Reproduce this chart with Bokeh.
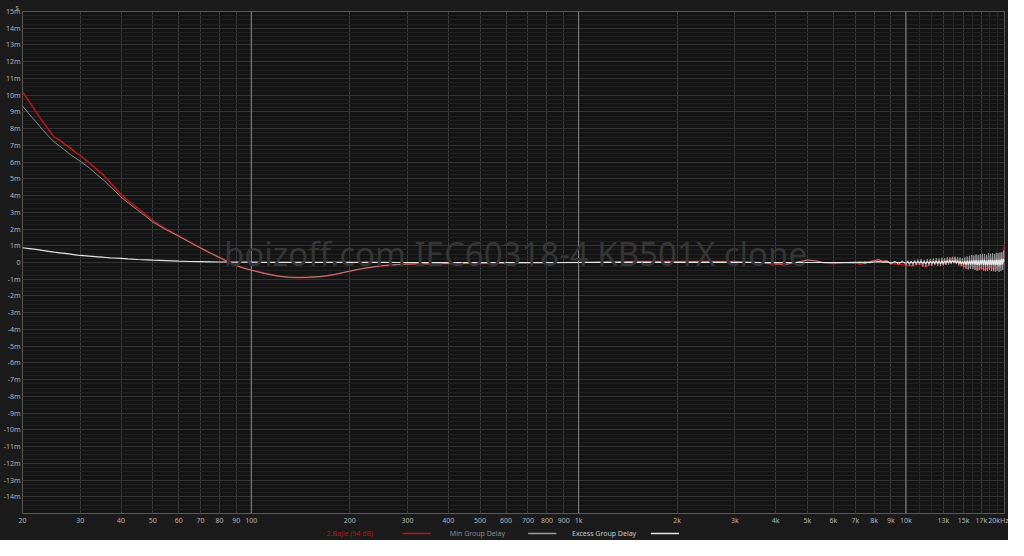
from bokeh.plotting import figure
from bokeh.models import FixedTicker, Span, Label
from bokeh.layouts import column
from bokeh.core.properties import value
from bokeh.embed import file_html
from bokeh.resources import INLINE

# ---------------- data (ms) ----------------
freq_lo = [20, 21, 22, 23, 24, 25, 26, 27, 28, 29, 30,
           32, 34, 35, 36, 37, 38, 40, 42, 45, 48, 50,
           55, 60, 65, 70, 75, 80, 85, 90, 95, 100,
           110, 120, 130, 140, 150, 160, 170, 180, 200, 220, 250, 280, 300, 350, 400,
           500, 600, 700, 800, 1000, 1200, 1500, 2000, 2500, 3000, 3500, 4000, 4300, 4600,
           5000, 5300, 5600, 6000, 6500]

gd_lo = [10.2, 9.6, 9.0, 8.45, 7.95, 7.5, 7.3, 7.05, 6.85, 6.6, 6.4,
         5.95, 5.5, 5.3, 5.05, 4.8, 4.55, 4.05, 3.7, 3.25, 2.8, 2.5,
         2.0, 1.6, 1.22, 0.88, 0.57, 0.3, 0.05, -0.18, -0.33, -0.45,
         -0.65, -0.8, -0.88, -0.9, -0.89, -0.86, -0.8, -0.72, -0.52, -0.36, -0.2, -0.13, -0.1, -0.08, -0.06,
         -0.05, -0.04, -0.03, -0.02, 0.0, 0.03, 0.05, 0.05, 0.06, 0.05, 0.0, -0.1, -0.12, 0.0,
         0.15, 0.1, -0.02, -0.05, -0.02]

min_lo = [9.35, 8.85, 8.4, 7.95, 7.55, 7.2, 6.95, 6.7, 6.45, 6.25, 6.05,
          5.65, 5.2, 5.0, 4.8, 4.55, 4.35, 3.9, 3.58, 3.12, 2.7, 2.42,
          1.95, 1.57, 1.2, 0.86, 0.56, 0.29, 0.04, -0.19, -0.34, -0.46,
          -0.66, -0.81, -0.88, -0.9, -0.88, -0.85, -0.79, -0.71, -0.51, -0.35, -0.19, -0.12, -0.09, -0.07, -0.05,
          -0.04, -0.03, -0.02, -0.01, 0.01, 0.04, 0.06, 0.06, 0.06, 0.05, 0.01, -0.08, -0.1, 0.01,
          0.14, 0.1, -0.01, -0.04, -0.01]

exc_lo = [0.88, 0.83, 0.78, 0.72, 0.67, 0.62, 0.58, 0.54, 0.5, 0.46, 0.42,
          0.38, 0.34, 0.32, 0.3, 0.28, 0.27, 0.25, 0.22, 0.18, 0.16, 0.14,
          0.11, 0.08, 0.06, 0.05, 0.04, 0.03, 0.03, 0.02, 0.02, 0.02,
          0.01, 0.01, 0.01, 0.01, 0.01, 0.01, 0.01, 0.01, 0.01, 0.01, 0.01, 0.0, 0.0, 0.0, 0.0,
          0.0, 0.0, 0.0, 0.0, 0.0, 0.0, 0.0, 0.0, 0.0, 0.0, 0.0, 0.0, 0.0, 0.0,
          0.0, 0.0, 0.0, 0.0, 0.0]

# high-frequency sampling positions (Hz)
freq_hi = list(range(7000, 10000, 250)) + list(range(10000, 20001, 125))

gd_hi = [-0.02, -0.1, -0.02, 0.05, 0.12, 0.15, 0.1, 0.04, -0.04, -0.08, -0.1, -0.12,
         -0.15, -0.16, -0.18, -0.2, -0.19, -0.15, -0.12, -0.1, -0.08, -0.12,
         -0.2, -0.24, -0.25, -0.2, -0.15, -0.12, -0.08, -0.02, 0.0, 0.04,
         0.05, 0.0, -0.05, -0.08, -0.1, -0.05, 0.05, 0.12, 0.15, 0.18,
         0.22, 0.25, 0.25, 0.2, 0.15, 0.05, 0.0, -0.05, -0.1, -0.15,
         -0.2, -0.25, -0.3, -0.35, -0.35, -0.3, -0.2, -0.15, -0.2, -0.25,
         -0.3, -0.35, -0.4, -0.38, -0.35, -0.3, -0.3, -0.35, -0.4, -0.42,
         -0.45, -0.4, -0.35, -0.3, -0.25, -0.2, -0.3, -0.35, -0.4, -0.38,
         -0.35, -0.3, -0.3, -0.28, -0.25, -0.2, -0.1, 0.05, 0.3, 0.6, 1.1]

min_hi = [-0.02, 0.05, -0.08, 0.06, 0.1, 0.18, 0.05, 0.12, -0.1, 0.08, -0.12, 0.1,
          -0.15, 0.12, -0.18, 0.1, -0.2, 0.15, -0.16, 0.18, -0.14, 0.2,
          -0.24, 0.16, -0.25, 0.2, -0.18, 0.22, -0.2, 0.24, -0.16, 0.26,
          -0.2, 0.24, -0.22, 0.28, -0.18, 0.25, -0.15, 0.3, -0.12, 0.3,
          -0.1, 0.34, -0.05, 0.35, -0.1, 0.32, -0.18, 0.3, -0.22, 0.26,
          -0.3, 0.3, -0.36, 0.35, -0.42, 0.4, -0.38, 0.45, -0.4, 0.42,
          -0.45, 0.48, -0.5, 0.44, -0.46, 0.5, -0.42, 0.52, -0.48, 0.5,
          -0.52, 0.46, -0.5, 0.55, -0.45, 0.52, -0.5, 0.56, -0.52, 0.5,
          -0.55, 0.58, -0.5, 0.55, -0.56, 0.6, -0.5, 0.62, -0.45, 0.7, 0.3]

exc_hi = [0.01, -0.01, 0.02, -0.01, 0.03, 0.05, 0.02, 0.04, -0.02, 0.03, -0.02, 0.03,
          -0.03, 0.03, -0.04, 0.04, -0.04, 0.05, -0.03, 0.05, -0.04, 0.06,
          -0.05, 0.05, -0.06, 0.06, -0.05, 0.07, -0.04, 0.07, -0.05, 0.08,
          -0.06, 0.07, -0.06, 0.08, -0.05, 0.09, -0.04, 0.1, -0.03, 0.11,
          -0.02, 0.12, 0.0, 0.12, -0.03, 0.1, -0.06, 0.08, -0.08, 0.06,
          -0.1, 0.08, -0.12, 0.1, -0.13, 0.11, -0.12, 0.13, -0.11, 0.12,
          -0.13, 0.14, -0.14, 0.13, -0.15, 0.14, -0.12, 0.15, -0.14, 0.15,
          -0.15, 0.13, -0.16, 0.15, -0.14, 0.16, -0.15, 0.16, -0.15, 0.15,
          -0.16, 0.17, -0.15, 0.16, -0.17, 0.18, -0.14, 0.2, -0.12, 0.22, 0.05]

freq = freq_lo + freq_hi
group_delay = gd_lo + gd_hi
min_group_delay = min_lo + min_hi
excess_group_delay = exc_lo + exc_hi

x_major = [20, 30, 40, 50, 60, 70, 80, 90, 100, 200, 300, 400, 500, 600, 700, 800, 900,
           1000, 2000, 3000, 4000, 5000, 6000, 7000, 8000, 9000, 10000, 13000, 15000, 17000, 20000]
x_labels = ["20", "30", "40", "50", "60", "70", "80", "90", "100", "200", "300", "400", "500",
            "600", "700", "800", "900", "1k", "2k", "3k", "4k", "5k", "6k", "7k", "8k", "9k",
            "10k", "13k", "15k", "17k", "20kHz"]
x_minor = [11000, 12000, 14000, 16000, 18000, 19000]
x_bright = [100, 1000, 10000]

y_major = list(range(-14, 16))
y_labels = [("%dm" % v if v != 0 else "0") for v in y_major]

legend_names = ["2.Bajie (94 dB)", "Min Group Delay", "Excess Group Delay"]
colors = ["#b8141b", "#9a9a9a", "#e6e6e6"]
legend_text_colors = ["#b8141b", "#8a8a8a", "#c8c8c8"]
watermark = "boizoff.com IEC60318-4 KB501X clone"

# ---------------- main figure ----------------
FONT = "Noto Sans"
BG = "#1b1b1b"
p = figure(width=1008, height=527, x_axis_type="log",
           x_range=(20, 20000), y_range=(-15, 15),
           output_backend="svg", toolbar_location=None,
           background_fill_color="#141414", border_fill_color=BG,
           min_border_left=15, min_border_right=4, min_border_top=0, min_border_bottom=11)
p.outline_line_color = "#5a5a5a"

# unit label "s" above the y axis, as the plot title
p.title.text = "s"
p.title.align = "left"
p.title.offset = -7
p.title.standoff = 0
p.title.text_font = FONT
p.title.text_font_size = "7px"
p.title.text_font_style = "normal"
p.title.text_color = "#b4b4b4"

p.xaxis.ticker = FixedTicker(ticks=x_major, minor_ticks=x_minor)
p.xaxis.major_label_overrides = {t: l for t, l in zip(x_major, x_labels)}
p.yaxis.ticker = FixedTicker(ticks=y_major, minor_ticks=[v / 4 for v in range(-60, 61)])
p.yaxis.major_label_overrides = {t: l for t, l in zip(y_major, y_labels)}

for ax in (p.xaxis, p.yaxis):
    ax.axis_line_color = None
    ax.major_tick_line_color = None
    ax.minor_tick_line_color = None
    ax.major_tick_out = 0
    ax.major_tick_in = 0
    ax.minor_tick_out = 0
    ax.minor_tick_in = 0
    ax.major_label_text_color = "#b4b4b4"
    ax.major_label_text_font = FONT
    ax.major_label_text_font_size = "7px"
p.xaxis.major_label_standoff = 2
p.yaxis.major_label_standoff = 2

p.xgrid.grid_line_color = "#3a3a3a"
p.xgrid.minor_grid_line_color = "#2a2a2a"
p.ygrid.grid_line_color = "#333333"
p.ygrid.minor_grid_line_color = "#202020"

for f in x_bright:
    p.add_layout(Span(location=f, dimension="height", line_color="#8a8a8a", line_width=1))

# watermark
p.add_layout(Label(x=493, y=260, x_units="screen", y_units="screen", text=watermark,
                   text_align="center", text_baseline="middle", text_font=FONT,
                   text_font_size="33px", text_color="#363636"))

# curves
p.line(freq, group_delay, line_color=colors[0], line_width=1.6)
p.line(freq, min_group_delay, line_color=colors[1], line_width=1.0, line_alpha=0.9)
p.line(freq, excess_group_delay, line_color=colors[2], line_width=1.2)

# ---------------- legend strip (text followed by a line sample) ----------------
leg = figure(width=1008, height=13, x_range=(0, 1008), y_range=(0, 13),
             output_backend="svg", toolbar_location=None,
             background_fill_color=BG, border_fill_color=BG,
             min_border_left=0, min_border_right=0, min_border_top=0, min_border_bottom=0)
leg.outline_line_color = None
leg.axis.visible = False
leg.grid.visible = False
leg_text_x = [336, 467, 597]
leg_line_x0 = [390, 519, 645]
leg_line_len = 29
leg.text(x=leg_text_x, y=[7, 7, 7], text=legend_names, text_color=legend_text_colors,
         text_align="center", text_baseline="middle", text_font=value(FONT),
         text_font_size="7px")
leg.segment(x0=leg_line_x0, y0=[7, 7, 7], x1=[x + leg_line_len for x in leg_line_x0],
            y1=[7, 7, 7], line_color=colors, line_width=1.3)

layout = column(p, leg, spacing=0, styles={"background-color": BG})
open("out.html", "w").write(file_html(layout, INLINE))
